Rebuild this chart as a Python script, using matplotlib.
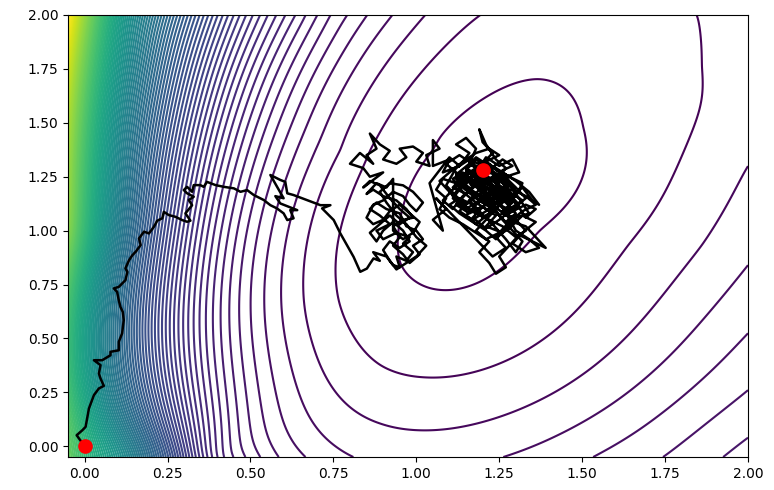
import numpy as np
import matplotlib
matplotlib.use('Agg')
import matplotlib.pyplot as plt

# contour crossings: x, y, contour index (1 = innermost)
cx = [1.193,1.846,1.027,0.928,0.852,0.792,0.741,0.702,0.666,0.636,0.605,
      0.81,1.262,0.666,1.533,0.585,1.744,0.53,1.925,0.485,0.449,0.419,
      2,2,2,2,2,
      1.092,0.952,1.05,1.072,1.364,1.503,1.373,
      0.766,0.861,1.021,0.892,1.861,1.639,
      0.661,0.771,1.012,0.892,1.861,
      0.651,0.696,2,2,1.23]
cy = [2,2,2,2,2,2,2,2,2,2,2,
      -0.05,-0.05,-0.05,-0.05,-0.05,-0.05,-0.05,-0.05,-0.05,-0.05,-0.05,
      1.30,0.84,0.524,0.26,0.04,
      0.724,0.848,1.374,1.434,1.703,1.48,1.002,
      0.677,1.374,0.32,0.376,1.76,0.933,
      0.677,1.374,0.074,0.105,0.933,
      1.203,1.374,2,1.6,1.21]
ck = [2,2,3,4,5,6,7,8,9,10,11,
      4,4,5,5,6,6,7,7,8,9,10,
      3,4,5,6,7,
      1,1,1,1,1,1,1,
      2,2,2,2,2,2,
      3,3,3,3,3,
      4,4,2.6,2.5,0.5]
colx = [-0.05,-0.05,-0.05,0.13,0.26,0.13,0.26]
coly = [2,1,-0.05,2,2,-0.05,-0.05]
colk = [97,79,74,50,33,45,25]

path_x = [0.0,-0.024,-0.007,0.003,0.013,0.028,0.043,0.058,0.048,0.043,0.048,0.028,0.053,0.078,0.078,0.103,0.103,0.113,0.118,0.115,0.108,0.103,0.098,0.088,0.103,0.123,0.129,0.123,0.134,0.144,0.154,0.169,
 0.164,0.179,0.194,0.209,0.219,0.234,0.239,0.254,0.274,0.294,0.309,0.319,0.304,0.324,0.314,0.329,0.309,0.299,0.309,0.324,0.329,0.349,0.359,0.369,0.395,0.420,0.450,0.470,0.490,0.510,0.540,0.560,0.580,0.600,0.611,0.630,0.620,0.641,0.590,0.575,0.600,0.560,0.590,0.605,0.611,0.630,0.711,0.741,0.716,0.751,0.771,0.791,0.811,0.831,0.851,0.861,0.871,
 0.89,0.87,0.91,0.93,0.95,0.94,0.97,0.99,0.96,0.98,0.94,0.90,0.88,0.92,0.89,0.86,0.88,0.91,0.95,0.97,1.00,1.02,0.99,1.01,0.98,0.96,0.93,0.95,0.93,0.96,0.99,0.97,0.94,0.90,0.87,0.85,0.88,0.91,0.93,
 0.93,0.96,0.99,1.01,0.98,0.95,0.92,0.90,0.87,0.85,0.87,0.90,0.93,0.96,0.98,1.00,1.02,0.99,0.96,0.92,0.89,0.91,0.94,0.97,1.00,1.03,1.00,0.97,0.94,0.92,0.90,0.92,0.95,0.98,0.96,0.93,0.90,0.88,0.86,0.89,0.92,0.95,0.98,0.95,0.92,0.89,0.86,0.84,
 0.90,0.86,0.84,0.80,0.83,0.87,0.85,0.88,0.86,0.89,0.92,0.90,0.94,0.97,0.95,0.99,1.02,1.00,1.04,1.03,1.07,1.05,
 1.05,1.10,1.08,1.13,1.16,1.12,1.15,1.18,1.16,1.20,1.17,1.22,1.26,1.23,1.28,1.30,1.27,1.31,1.29,1.25,1.21,1.19,1.14,1.11,1.15,1.12,1.16,1.20,1.24,1.21,1.26,1.29,1.33,1.36,1.39,1.35,1.31,1.28,1.25,1.27,1.24,1.22,1.19,1.22,1.18,1.14,1.10,1.07,1.09,1.06,1.08,1.12,1.15,1.19,1.23,1.20,1.25,1.29,1.33,1.36,1.33,1.30,1.26,1.22,1.18,1.20,1.23,1.20,1.19,1.21,1.24,1.27,1.24,1.27,1.24,1.20,1.17,1.13,1.10,1.13,1.17,1.21,1.24,1.27,1.30,1.34,1.31,1.28,1.25,1.21,1.17,1.13,1.09,1.12,1.15,1.18,1.22,1.26,1.29,1.32,1.30,1.27,1.23,1.19,1.16,1.19,1.23,1.26,1.29,1.32,1.35,1.37,1.34,1.30,1.26,1.22,1.18,1.15,1.18,1.21,1.25,1.22,1.18,1.14,1.11,1.14,1.17,1.20,
 1.24,1.27,1.23,1.19,1.15,1.12,1.16,1.20,1.24,1.28,1.31,1.27,1.23,1.19,1.15,1.12,1.09,1.12,1.16,1.20,1.24,1.28,1.32,1.30,1.26,1.22,1.18,1.15,1.18,1.22,1.26,1.29,1.26,1.30,1.33,1.30,1.26,1.22,1.18,1.14,1.11,1.14,1.17,1.21,1.25,1.22,1.18,1.14,1.10,1.07,1.10,1.13,1.17,1.21,1.25,1.29,1.33,1.36,1.32,1.28,1.25,1.21,1.18,1.21,1.24,1.27,1.24,1.20,1.16,1.19,1.23,1.26,1.29,1.26,1.22,1.18,1.14,1.11,1.08,1.11,1.15,1.19,1.22,1.25,1.29,1.32,1.28,1.23,1.20,
 1.19,1.23,1.26,1.22,1.18,1.14,1.17,1.21,1.25,1.28,1.25,1.21,1.17,1.13,1.16,1.20,1.24,1.28,1.31,1.28,1.24,1.20,1.16,1.12,1.15,1.19,1.23,1.27,1.30,1.27,1.23,1.19,1.15,1.18,1.22,1.26,1.23,1.19,1.15,1.11,1.14,1.18,1.22,1.26,1.30,1.33,1.29,1.25,1.21,1.17,1.20,1.24,1.28,1.25,1.21,1.17,1.13,1.16,1.20,1.23,
 1.30,1.34,1.37,1.33,1.29,1.32,1.36,1.32,1.28,1.24,1.27,1.23,1.06,1.09,1.05,1.08,1.04,1.07,1.10,1.13]
path_y = [0.0,0.051,0.074,0.090,0.175,0.237,0.268,0.280,0.314,0.337,0.376,0.399,0.399,0.422,0.438,0.445,0.484,0.523,0.585,0.623,0.646,0.677,0.716,0.732,0.739,0.770,0.809,0.825,0.863,0.886,0.902,0.933,
 0.964,0.995,0.987,1.018,1.046,1.057,1.087,1.072,1.064,1.049,1.041,1.046,1.080,1.118,1.142,1.157,1.173,1.188,1.203,1.180,1.211,1.211,1.203,1.226,1.211,1.203,1.196,1.180,1.188,1.165,1.142,1.118,1.103,1.080,1.049,1.057,1.095,1.095,1.126,1.160,1.150,1.258,1.235,1.226,1.173,1.165,1.118,1.118,1.103,1.049,0.987,0.933,0.878,0.809,0.824,0.848,0.871,
 0.86,0.90,0.88,0.84,0.83,0.88,0.86,0.90,0.94,0.97,0.99,0.96,1.00,1.03,1.07,1.10,1.13,1.10,1.08,1.02,1.00,0.96,0.93,0.89,0.85,0.89,0.93,0.97,1.02,1.05,1.06,1.10,1.14,1.16,1.19,1.17,1.22,1.20,1.24,
 1.00,0.96,0.99,1.04,1.08,1.12,1.09,1.05,1.03,1.06,1.12,1.14,1.18,1.16,1.12,1.09,1.13,1.18,1.21,1.22,1.18,1.13,1.07,1.03,0.97,0.93,0.88,0.85,0.82,0.86,0.91,0.95,0.92,0.95,1.00,1.04,1.00,0.95,0.99,1.03,1.07,1.03,1.06,1.10,1.15,1.21,1.23,1.20,
 1.27,1.25,1.29,1.31,1.36,1.31,1.35,1.38,1.45,1.40,1.37,1.33,1.31,1.34,1.38,1.39,1.36,1.32,1.30,1.35,1.38,1.42,
 1.30,1.33,1.27,1.30,1.36,1.40,1.43,1.38,1.31,1.28,1.22,1.24,1.20,1.15,1.13,1.18,1.25,1.27,1.33,1.30,1.34,1.29,1.25,1.20,1.17,1.12,1.08,1.11,1.07,1.02,0.99,1.04,1.02,0.97,0.92,0.95,0.98,0.93,0.88,0.83,0.80,0.85,0.90,0.95,0.99,1.03,1.06,1.10,1.15,1.19,1.24,1.22,1.26,1.21,1.19,1.15,1.12,1.09,1.12,1.10,1.06,1.13,1.16,1.21,1.25,1.31,1.36,1.41,1.47,1.40,1.33,1.29,1.23,1.17,1.10,1.06,1.12,1.15,1.12,1.08,1.04,1.00,0.96,1.01,1.06,1.08,1.15,1.21,1.26,1.27,1.31,1.35,1.31,1.27,1.21,1.17,1.13,1.05,1.00,0.95,0.90,0.96,1.03,1.09,1.14,1.19,1.25,1.22,1.16,1.20,1.14,1.12,1.18,1.23,1.27,1.30,1.34,1.29,1.24,1.18,1.14,1.09,1.13,1.18,1.24,1.27,1.20,1.22,
 1.26,1.21,1.17,1.14,1.19,1.24,1.28,1.25,1.20,1.16,1.11,1.07,1.12,1.17,1.12,1.16,1.21,1.29,1.33,1.30,1.29,1.25,1.22,1.16,1.13,1.08,1.03,1.07,1.12,1.17,1.19,1.13,1.09,1.05,1.00,0.97,1.02,1.05,1.08,1.11,1.15,1.21,1.26,1.32,1.35,1.38,1.36,1.32,1.27,1.23,1.18,1.13,1.09,1.12,1.16,1.19,1.16,1.12,1.09,1.04,0.99,0.96,1.00,1.05,1.10,1.15,1.19,1.19,1.23,1.28,1.23,1.28,1.30,1.33,1.28,1.21,1.16,1.10,1.14,1.19,1.24,1.19,1.14,1.07,1.11,1.14,1.18,1.21,1.27,
 1.24,1.20,1.15,1.11,1.15,1.20,1.25,1.29,1.24,1.19,1.14,1.09,1.05,1.09,1.14,1.18,1.13,1.08,1.12,1.17,1.22,1.27,1.31,1.26,1.21,1.16,1.10,1.04,1.08,1.13,1.18,1.23,1.28,1.33,1.29,1.24,1.19,1.14,1.10,1.16,1.22,1.27,1.31,1.26,1.20,1.15,1.10,1.05,1.01,1.06,1.11,1.16,1.21,1.27,1.32,1.28,1.23,1.18,1.13,1.19,
 1.00,0.96,0.92,0.90,0.94,0.99,1.04,1.07,1.01,0.97,0.92,0.88,1.15,1.10,1.05,1.00,1.22,1.28,1.34,1.30]
start_pt = (0.0, 0.0)
target_pt = (1.2, 1.28)

# ---- smooth surface (thin-plate spline in log-level space) through the read values ----
px = np.array(cx + colx, float)
py = np.array(cy + coly, float)
hv = np.log(np.array(ck + colk, float) + 1.0)
n = len(px)
def phi(d):
    with np.errstate(divide='ignore', invalid='ignore'):
        return np.where(d > 0, d * d * np.log(np.where(d > 0, d, 1.0)), 0.0)
dd = np.hypot(px[:, None] - px[None, :], py[:, None] - py[None, :])
K = phi(dd) + 1e-3 * np.eye(n)
Pm = np.column_stack([np.ones(n), px, py])
A = np.zeros((n + 3, n + 3))
A[:n, :n] = K; A[:n, n:] = Pm; A[n:, :n] = Pm.T
sol = np.linalg.solve(A, np.concatenate([hv, np.zeros(3)]))
w, a = sol[:n], sol[n:]

xs = np.linspace(-0.05, 2, 450)
ys = np.linspace(-0.05, 2, 450)
X, Y = np.meshgrid(xs, ys)
H = a[0] + a[1] * X + a[2] * Y
for i in range(n):
    H += w[i] * phi(np.hypot(X - px[i], Y - py[i]))
Z = np.exp(H) - 1.0

fig = plt.figure(figsize=(7.74, 4.9), dpi=100)
ax = fig.add_axes([0.0879, 0.0673, 0.9664 - 0.0879, 0.9694 - 0.0673])
ax.contour(X, Y, Z, levels=np.arange(1, int(Z.max()) + 1), cmap='viridis', linewidths=1.5)
ax.plot(path_x, path_y, color='black', lw=1.8)
ax.plot(*start_pt, 'o', color='red', ms=9.5)
ax.plot(*target_pt, 'o', color='red', ms=9.5)
ax.set_xlim(-0.05, 2)
ax.set_ylim(-0.05, 2)
fig.savefig('out.png')
